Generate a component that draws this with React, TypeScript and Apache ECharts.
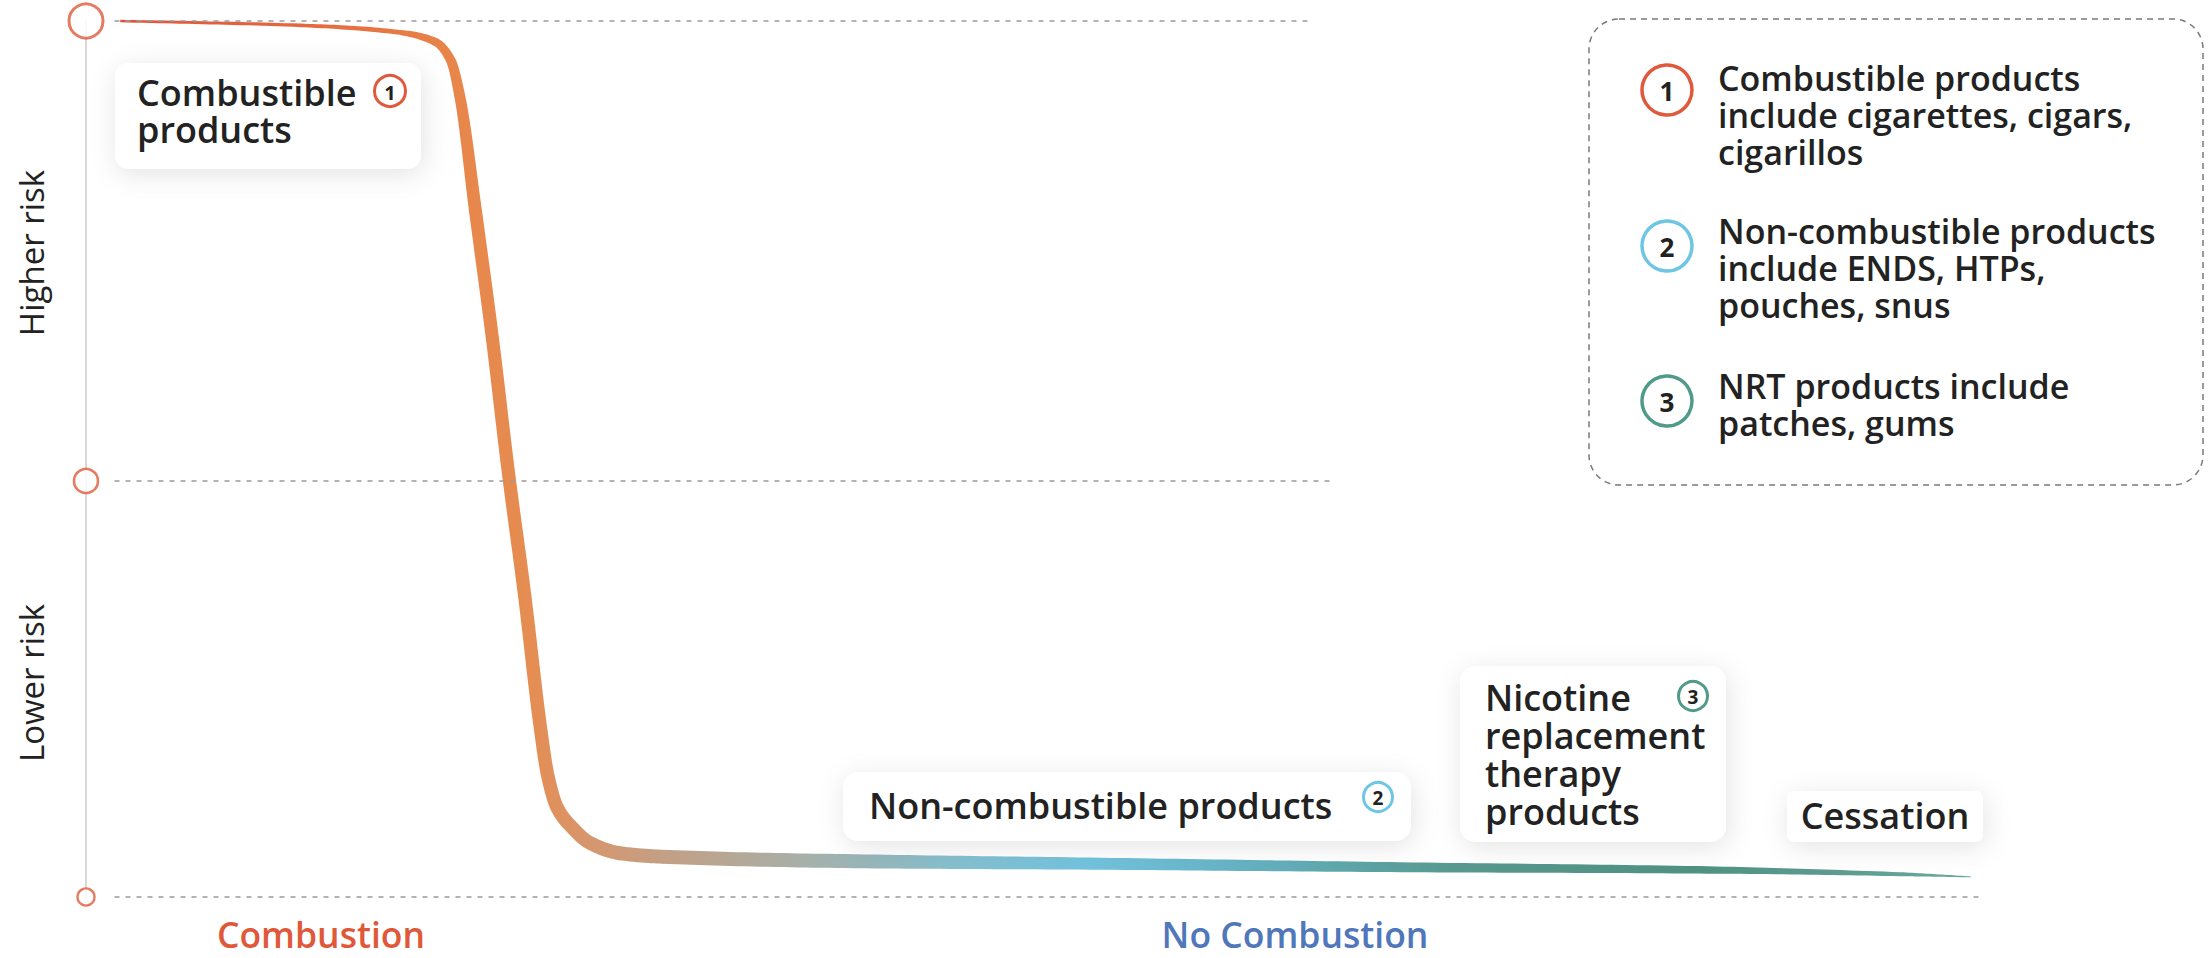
import { useEffect, useRef } from "react";
import * as echarts from "echarts";

// Relative risk curve: x runs from combustion to cessation, y is risk (0 = lowest, 100 = highest)
const riskX = [1.8, 11.3, 16.5, 18.4, 19.2, 19.7, 20.5, 21.4, 22.2, 23.1, 23.9, 24.3, 24.8, 25.6, 26.5, 28.1, 30.3, 39.9, 53.4, 69.2, 84.9, 95.5, 99.2];
const riskY = [100, 99.5, 98.7, 97.6, 95.5, 91.1, 78.3, 63.6, 49.0, 34.2, 19.6, 13.9, 10.2, 7.9, 6.2, 5.0, 4.6, 4.1, 3.8, 3.4, 3.1, 2.6, 2.3];

// Risk levels marked on the vertical axis
const levelValues = [100, 47.5, 0];
const levelLineStart = 1.5;
const levelLineEnds = [64.6, 65.5, 99.8];

const axisLabels = ["Higher risk", "Lower risk"];
const zoneLabels = ["Combustion", "No Combustion"];
const legendItems = [
  { n: "1", lines: ["Combustible products", "include cigarettes, cigars,", "cigarillos"] },
  { n: "2", lines: ["Non-combustible products", "include ENDS, HTPs,", "pouches, snus"] },
  { n: "3", lines: ["NRT products include", "patches, gums"] },
];
const boxTexts = {
  combustible: ["Combustible", "products"],
  nonCombustible: ["Non-combustible products"],
  nrt: ["Nicotine", "replacement", "therapy", "products"],
  cessation: ["Cessation"],
};

// Styles
const FONT = "'Open Sans', 'Noto Sans', sans-serif";
const TEXT = "#222222";
const RED = "#df5a3c";
const BLUE_BADGE = "#6ec6e4";
const TEAL = "#4f9a88";
const CARD_FONT = 36;
const LEGEND_FONT = 34;
const levelSymbolSizes = [34, 24, 17];
const levelBorderWidths = [3, 2.6, 2.4];
const ribbonStops = [
  [0, "#e2533a"],
  [0.104, "#e46a3e"],
  [0.179, "#e8854a"],
  [0.222, "#e58d52"],
  [0.249, "#d9956a"],
  [0.292, "#c49f84"],
  [0.372, "#a5b0aa"],
  [0.453, "#84bfcf"],
  [0.522, "#72c3de"],
  [0.614, "#64b0c0"],
  [0.721, "#57998f"],
  [0.855, "#4f9183"],
  [1, "#6aa89c"],
];
// ribbon thickness (px) along the curve's horizontal extent
const ribbonWidthStops = [
  [0, 2.5],
  [0.097, 3.5],
  [0.151, 5],
  [0.176, 9],
  [0.192, 13],
  [0.27, 14],
  [0.395, 14],
  [0.53, 12],
  [0.69, 10],
  [0.854, 7.5],
  [0.962, 4],
  [1, 1],
];

function interpStops(stops: number[][], f: number) {
  if (f <= stops[0][0]) return stops[0][1];
  for (let i = 1; i < stops.length; i++) {
    if (f <= stops[i][0]) {
      const [f0, v0] = stops[i - 1];
      const [f1, v1] = stops[i];
      return v0 + ((v1 - v0) * (f - f0)) / (f1 - f0);
    }
  }
  return stops[stops.length - 1][1];
}

// Monotone cubic (Fritsch–Carlson) sampling of the pixel-space curve
function monotoneSample(pts: number[][], steps: number) {
  const n = pts.length;
  const dx: number[] = [];
  const m: number[] = [];
  for (let i = 0; i < n - 1; i++) {
    dx[i] = pts[i + 1][0] - pts[i][0];
    m[i] = (pts[i + 1][1] - pts[i][1]) / dx[i];
  }
  const t: number[] = new Array(n);
  t[0] = m[0];
  t[n - 1] = m[n - 2];
  for (let i = 1; i < n - 1; i++) {
    if (m[i - 1] * m[i] <= 0) t[i] = 0;
    else {
      const w1 = 2 * dx[i] + dx[i - 1];
      const w2 = dx[i] + 2 * dx[i - 1];
      t[i] = (w1 + w2) / (w1 / m[i - 1] + w2 / m[i]);
    }
  }
  const out: number[][] = [];
  for (let i = 0; i < n - 1; i++) {
    const [x0, y0] = pts[i];
    const y1 = pts[i + 1][1];
    for (let s = 0; s < steps; s++) {
      const u = s / steps;
      const u2 = u * u;
      const u3 = u2 * u;
      const h00 = 2 * u3 - 3 * u2 + 1;
      const h10 = u3 - 2 * u2 + u;
      const h01 = -2 * u3 + 3 * u2;
      const h11 = u3 - u2;
      out.push([x0 + u * dx[i], h00 * y0 + h10 * dx[i] * t[i] + h01 * y1 + h11 * dx[i] * t[i + 1]]);
    }
  }
  out.push(pts[n - 1]);
  return out;
}

function textLines(x: number, yTop: number, lines: string[], size: number, lineHeight: number, weight: any = 600) {
  return {
    type: "text",
    x,
    y: yTop,
    z: 110,
    style: {
      text: lines.join("\n"),
      fill: TEXT,
      fontSize: size,
      fontFamily: FONT,
      fontWeight: weight,
      lineHeight,
      align: "left",
      verticalAlign: "top",
    },
  };
}

function badge(cx: number, cy: number, r: number, n: string, color: string, lw: number, size: number) {
  return [
    {
      type: "circle",
      z: 110,
      shape: { cx, cy, r },
      style: { fill: "#ffffff", stroke: color, lineWidth: lw },
    },
    {
      type: "text",
      x: cx,
      y: cy + 1,
      z: 111,
      style: {
        text: n,
        fill: TEXT,
        fontSize: size,
        fontFamily: FONT,
        fontWeight: 700,
        align: "center",
        verticalAlign: "middle",
      },
    },
  ];
}

function card(x: number, y: number, w: number, h: number, r: number) {
  return {
    type: "rect",
    z: 105,
    shape: { x, y, width: w, height: h, r },
    style: {
      fill: "#ffffff",
      shadowBlur: 26,
      shadowColor: "rgba(0,0,0,0.11)",
      shadowOffsetX: 2,
      shadowOffsetY: 5,
    },
  };
}

function caption(text: string, x: number, y: number, color: string, size: number, weight: any, rotation = 0) {
  return {
    type: "text",
    x,
    y,
    rotation,
    z: 110,
    style: {
      text,
      fill: color,
      fontSize: size,
      fontFamily: FONT,
      fontWeight: weight,
      lineHeight: size,
      align: "center",
      verticalAlign: "middle",
    },
  };
}

export default function App() {
  const ref = useRef<HTMLDivElement>(null);

  useEffect(() => {
    if (!ref.current) return;
    const chart = echarts.init(ref.current, undefined, { renderer: "svg" });

    const legendGraphics: any[] = [
      {
        type: "rect",
        z: 100,
        shape: { x: 1589, y: 19, width: 614, height: 466, r: 30 },
        style: { fill: "none", stroke: "#7a7a7a", lineWidth: 1.5, lineDash: [6, 5] },
      },
    ];
    const legendColors = [RED, BLUE_BADGE, TEAL];
    const legendCircleY = [90, 246, 401];
    const legendTextTop = [59.5, 212.5, 367.5];
    legendItems.forEach((item, i) => {
      legendGraphics.push(...badge(1667, legendCircleY[i], 25, item.n, legendColors[i], 3.5, 26));
      legendGraphics.push(textLines(1718, legendTextTop[i], item.lines, LEGEND_FONT, 37));
    });

    const option: any = {
      animation: false,
      backgroundColor: "#ffffff",
      grid: { left: 86, right: 222, top: 21, bottom: 61 },
      xAxis: {
        type: "value",
        min: 0,
        max: 100,
        axisLine: { show: false },
        axisTick: { show: false },
        axisLabel: { show: false },
        splitLine: { show: false },
      },
      yAxis: {
        type: "value",
        min: 0,
        max: 100,
        axisLine: { show: true, lineStyle: { color: "#d9d9d9", width: 2 } },
        axisTick: { show: false },
        axisLabel: { show: false },
        splitLine: { show: false },
      },
      series: [
        {
          type: "line",
          z: 1,
          data: [],
          silent: true,
          markLine: {
            silent: true,
            symbol: ["none", "none"],
            label: { show: false },
            lineStyle: { type: [5, 6], color: "#9a9a9a", width: 1.6 },
            data: levelValues.map((v, i) => [{ coord: [levelLineStart, v] }, { coord: [levelLineEnds[i], v] }]),
          },
        },
        {
          type: "custom",
          z: 2,
          silent: true,
          clip: false,
          data: [[riskX[0], riskY[0]]],
          renderItem: (params: any, api: any) => {
            if (params.dataIndex !== 0) return null;
            const pts = riskX.map((x, i) => api.coord([x, riskY[i]]));
            const dense = monotoneSample(pts, 24);
            const xStart = pts[0][0];
            const xEnd = pts[pts.length - 1][0];
            const upper: number[][] = [];
            const lower: number[][] = [];
            for (let i = 0; i < dense.length; i++) {
              const p = dense[i];
              const a = dense[Math.max(0, i - 1)];
              const b = dense[Math.min(dense.length - 1, i + 1)];
              const dx = b[0] - a[0];
              const dy = b[1] - a[1];
              const len = Math.hypot(dx, dy) || 1;
              const nx = -dy / len;
              const ny = dx / len;
              const hw = interpStops(ribbonWidthStops, (p[0] - xStart) / (xEnd - xStart)) / 2;
              upper.push([p[0] + nx * hw, p[1] + ny * hw]);
              lower.push([p[0] - nx * hw, p[1] - ny * hw]);
            }
            const points = upper.concat(lower.reverse());
            const gradient = new echarts.graphic.LinearGradient(
              xStart,
              0,
              xEnd,
              0,
              ribbonStops.map(([offset, color]) => ({ offset: offset as number, color: color as string })),
              true
            );
            return {
              type: "polygon",
              shape: { points },
              style: { fill: gradient, stroke: null },
            };
          },
        },
        {
          type: "scatter",
          z: 3,
          silent: true,
          symbol: "circle",
          data: levelValues.map((v, i) => ({
            value: [0, v],
            symbolSize: levelSymbolSizes[i],
            itemStyle: { color: "#ffffff", borderColor: RED, borderWidth: levelBorderWidths[i] },
          })),
        },
      ],
      graphic: [
        // vertical axis captions
        caption(axisLabels[0], 31, 253, TEXT, 33, 400, Math.PI / 2),
        caption(axisLabels[1], 31, 683, TEXT, 33, 400, Math.PI / 2),
        // zone captions under the chart
        caption(zoneLabels[0], 321, 934, "#e0583a", 35.5, 600),
        caption(zoneLabels[1], 1295, 934, "#4f77b9", 35.5, 600),
        // product cards
        card(115, 63, 306, 106, 14),
        textLines(137, 73.5, boxTexts.combustible, CARD_FONT, 37),
        ...badge(390, 91, 15.5, "1", RED, 3, 20),

        card(843, 772, 568, 69, 16),
        textLines(869, 786, boxTexts.nonCombustible, CARD_FONT, 38),
        ...badge(1378, 797, 14.5, "2", BLUE_BADGE, 3, 19),

        card(1460, 666, 266, 176, 16),
        textLines(1485, 678, boxTexts.nrt, CARD_FONT, 38),
        ...badge(1693, 696, 14.5, "3", TEAL, 3, 19),

        card(1787, 791, 196, 51, 8),
        caption(boxTexts.cessation[0], 1885, 815, TEXT, CARD_FONT, 600),
        ...legendGraphics,
      ],
    };

    chart.setOption(option);
    return () => chart.dispose();
  }, []);

  return (
    <div
      ref={ref}
      style={{ position: "fixed", left: 0, top: 0, width: 2208, height: 958, background: "#ffffff" }}
    />
  );
}
